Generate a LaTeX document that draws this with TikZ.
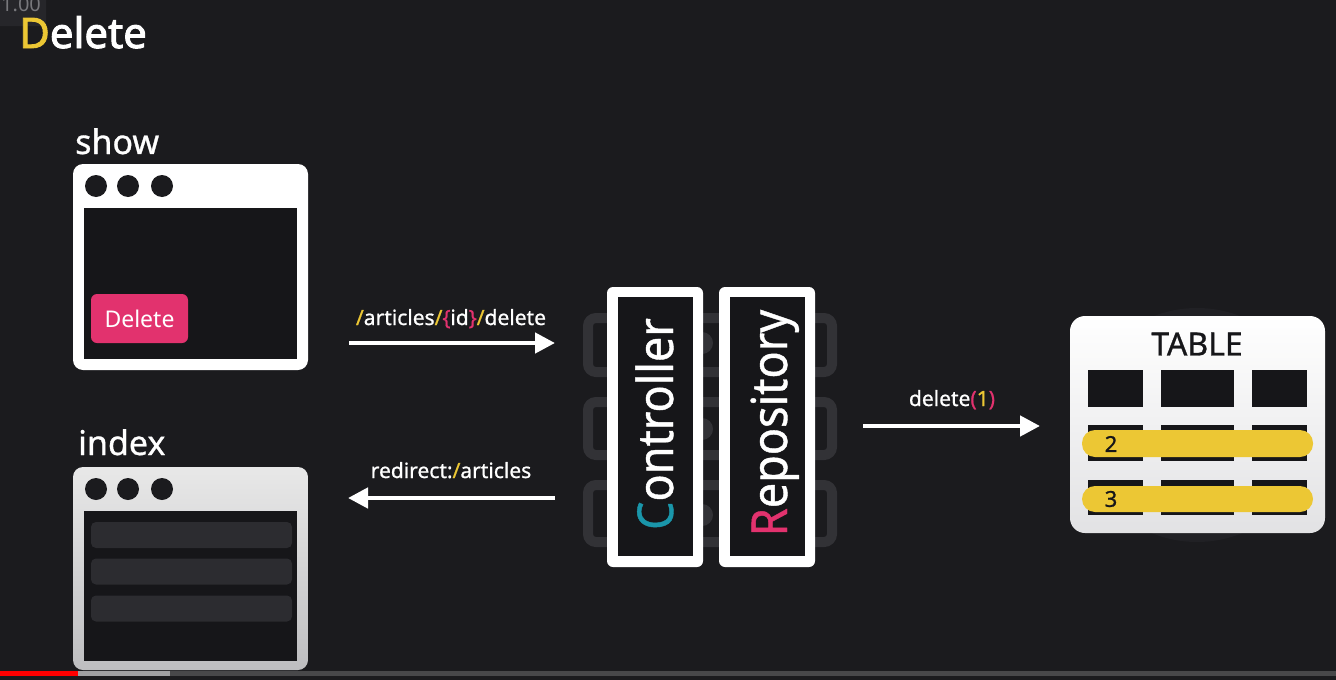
\documentclass[tikz,border=0pt]{standalone}
\usepackage{fontspec}
\setmainfont{Noto Sans}
\newfontfamily\heavyfont{Noto Sans}[FakeBold=2.2]
\newfontfamily\medfont{Noto Sans}[FakeBold=0.9]
\usetikzlibrary{arrows.meta}
\definecolor{bg}{RGB}{27,27,30}
\definecolor{innerdark}{RGB}{22,22,25}
\definecolor{ylw}{RGB}{236,199,52}
\definecolor{pnk}{RGB}{226,50,110}
\definecolor{ctrlteal}{RGB}{26,150,170}
\definecolor{faint}{RGB}{50,50,54}
\definecolor{barcol}{RGB}{44,44,48}
\definecolor{overlaybg}{RGB}{38,38,42}
\definecolor{overlaytx}{RGB}{120,120,124}
\definecolor{idxtop}{RGB}{232,232,232}
\definecolor{idxbot}{RGB}{190,190,192}
\definecolor{glow}{RGB}{33,33,37}
\definecolor{tblbot}{RGB}{226,226,228}
\definecolor{pbdark}{RGB}{72,72,74}
\definecolor{pblight}{RGB}{160,160,162}
\tikzset{
  lbl/.style={text=white, inner sep=0pt, font=\medfont\fontsize{34}{40}\selectfont},
  arrlbl/.style={text=white, inner sep=0pt, font=\medfont\fontsize{21}{25}\selectfont},
  winouter/.style={fill=white, rounded corners=10pt, inner sep=0pt, minimum width=235pt},
  wininner/.style={fill=innerdark, inner sep=0pt, minimum width=213pt},
  windot/.style={circle, fill=bg, inner sep=0pt, minimum size=22pt},
  listbar/.style={fill=barcol, rounded corners=5pt, inner sep=0pt, minimum width=201pt, minimum height=26pt},
  bigbox/.style={fill=white, rounded corners=6pt, inner sep=0pt, minimum width=96pt, minimum height=280pt},
  biginner/.style={fill=innerdark, inner sep=0pt, minimum width=75pt, minimum height=259pt},
  vtext/.style={rotate=90, anchor=base, text=white, inner sep=0pt, font=\medfont\fontsize{45}{50}\selectfont},
  flow/.style={line width=4.5pt, white, -{Triangle[length=20pt,width=20pt]}},
  faintbox/.style={draw=faint, line width=10pt, rounded corners=8pt},
  cell/.style={fill=innerdark, inner sep=0pt},
  ybar/.style={fill=ylw, rounded corners=13pt, inner sep=0pt, minimum width=231pt},
  tbltext/.style={inner sep=0pt, text=innerdark, font=\medfont\fontsize{22}{26}\selectfont},
}
\begin{document}
\begin{tikzpicture}[x=1pt,y=-1pt]
\fill[bg] (0,0) rectangle (1336,680);
\useasboundingbox (0,0) rectangle (1336,680);

% speed overlay
\fill[overlaybg, rounded corners=4pt] (-5,-5) rectangle (46,26);
\node[anchor=base west, inner sep=0pt, text=overlaytx, font=\fontsize{20}{24}\selectfont] (speed) at (1,12) {1.00};

% title
\node[anchor=base west, inner sep=0pt, text=white, font=\heavyfont\fontsize{42}{50}\selectfont] (title) at (19,48) {\textcolor{ylw}{D}elete};

% show window
\node[lbl, anchor=base west] (showlbl) at (75,154) {show};
\node[winouter, minimum height=206pt] (showwin) at (190.5,267) {};
\node[wininner, minimum height=151pt] (showin) at (190.5,283.5) {};
\node[windot] (sd1) at (96,186) {};
\node[windot] (sd2) at (128,186) {};
\node[windot] (sd3) at (162,186) {};
\node[fill=pnk, rounded corners=6pt, minimum width=97pt, minimum height=49pt, inner sep=0pt, text=white, font=\fontsize{23}{27}\selectfont] (delbtn) at (139.5,318.5) {Delete};

% index window
\node[lbl, anchor=base west] (indexlbl) at (78,455) {index};
\node[winouter, minimum height=203pt, fill=none, top color=idxtop, bottom color=idxbot] (indexwin) at (190.5,568.5) {};
\node[wininner, minimum height=150pt] (indexin) at (190.5,586) {};
\node[windot] (id1) at (96,489) {};
\node[windot] (id2) at (128,489) {};
\node[windot] (id3) at (162,489) {};
\node[listbar] (bar1) at (191.5,535) {};
\node[listbar] (bar2) at (191.5,571.5) {};
\node[listbar] (bar3) at (191.5,608.5) {};

% faint server boxes behind
\draw[faintbox] (588,318) rectangle (832,372);
\draw[faintbox] (588,402) rectangle (832,455);
\draw[faintbox] (588,485) rectangle (832,542);
\fill[faint] (702,343) circle (11);
\fill[faint] (702,429) circle (11);
\fill[faint] (702,515) circle (11);

% controller and repository
\node[bigbox] (ctrl) at (655,427) {};
\node[biginner] (ctrlin) at (655.5,426.5) {};
\node[vtext] (ctrltxt) at (673,424) {\scalebox{1}[1.1]{\textcolor{ctrlteal}{C}ontroller}};
\node[bigbox] (repo) at (767,427) {};
\node[biginner] (repoin) at (767,426.5) {};
\node[vtext] (repotxt) at (787,423) {\scalebox{1}[1.1]{\textcolor{pnk}{R}epository}};

% arrows
\coordinate (a1s) at (349,343);
\coordinate (a1e) at (555,343);
\draw[flow] (a1s) -- (a1e);
\node[arrlbl, anchor=base] (a1lbl) at (451,325) {\textcolor{ylw}{/}articles\textcolor{ylw}{/}\textcolor{pnk}{\{}id\textcolor{pnk}{\}}\textcolor{ylw}{/}delete};

\coordinate (a2s) at (555,498);
\coordinate (a2e) at (348,498);
\draw[flow] (a2s) -- (a2e);
\node[arrlbl, anchor=base] (a2lbl) at (451,478) {redirect:\textcolor{ylw}{/}articles};

\coordinate (a3s) at (863,426);
\coordinate (a3e) at (1040,426);
\draw[flow] (a3s) -- (a3e);
\node[arrlbl, anchor=base] (a3lbl) at (952,406) {delete\textcolor{pnk}{(}\textcolor{ylw}{1}\textcolor{pnk}{)}};

% table
\fill[glow] (1197,425) ellipse (118 and 117);
\node[inner sep=0pt, rounded corners=15pt, minimum width=255pt, minimum height=217pt, top color=white, bottom color=tblbot] (tbl) at (1197.5,424.5) {};
\node[inner sep=0pt, text=innerdark, font=\medfont\fontsize{32}{36}\selectfont] (tbltitle) at (1197,344) {TABLE};
\node[cell, minimum width=55pt, minimum height=37pt] (h1) at (1115.5,388.5) {};
\node[cell, minimum width=73pt, minimum height=37pt] (h2) at (1197.5,388.5) {};
\node[cell, minimum width=55pt, minimum height=37pt] (h3) at (1279.5,388.5) {};
\node[cell, minimum width=55pt, minimum height=36pt] (r21) at (1115.5,443) {};
\node[cell, minimum width=73pt, minimum height=36pt] (r22) at (1197.5,443) {};
\node[cell, minimum width=55pt, minimum height=36pt] (r23) at (1279.5,443) {};
\node[cell, minimum width=55pt, minimum height=35pt] (r31) at (1115.5,497.5) {};
\node[cell, minimum width=73pt, minimum height=35pt] (r32) at (1197.5,497.5) {};
\node[cell, minimum width=55pt, minimum height=35pt] (r33) at (1279.5,497.5) {};
\node[ybar, minimum height=27pt] (row2) at (1197.5,443.5) {};
\node[ybar, minimum height=26pt] (row3) at (1197.5,499) {};
\node[tbltext] (n2) at (1111,444) {2};
\node[tbltext] (n3) at (1111,499) {3};

% progress bar
\fill[pbdark] (0,671) rectangle (1336,676);
\fill[pblight] (0,671) rectangle (170,676);
\fill[red] (0,671) rectangle (78,676);
\end{tikzpicture}
\end{document}
